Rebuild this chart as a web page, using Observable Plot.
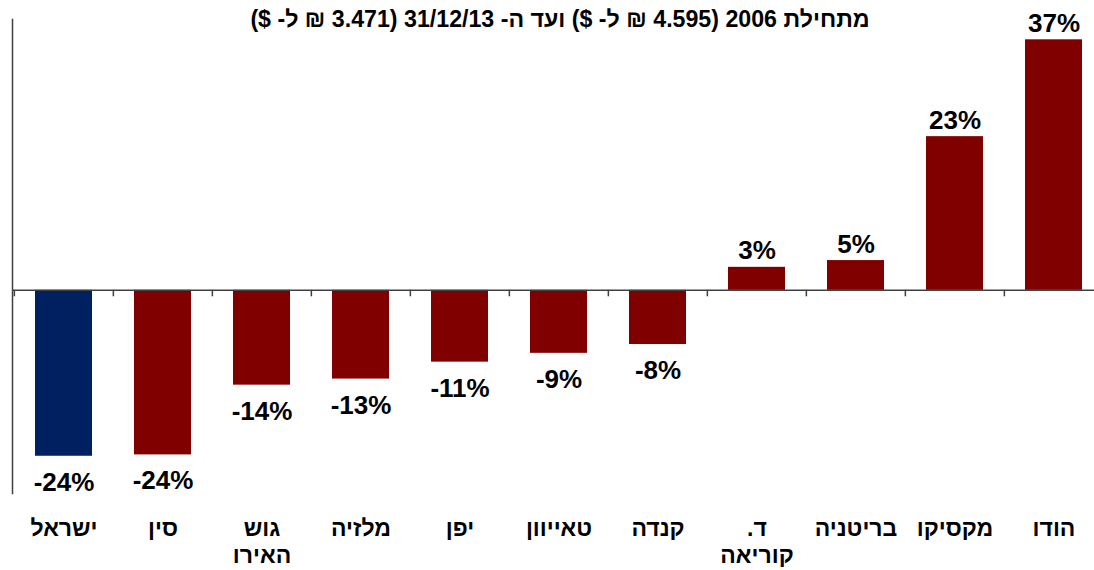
<!DOCTYPE html>
<html>
<head>
<meta charset="utf-8">
<script src="https://cdn.jsdelivr.net/npm/d3@7"></script>
<script src="https://cdn.jsdelivr.net/npm/@observablehq/plot@0.6"></script>
<style>
  html, body { margin: 0; padding: 0; background: #fff; }
  #chart { position: relative; width: 1094px; height: 570px; }
  #title { position: absolute; left: 0; width: 1120px; top: 6px; text-align: center; white-space: nowrap;
    font-family: "Liberation Sans", Arial, sans-serif; font-weight: bold; font-size: 23.2px; line-height: 27px; color: #000; direction: rtl; }
</style>
</head>
<body>
<div id="chart">
  <div id="title">מתחילת 2006 (4.595 ₪ ל- $) ועד ה- 31/12/13 (3.471 ₪ ל- $)</div>
</div>
<script>
// Note: ".ד" is stored so that the RTL rendering shows "ד." as in the reference
const categories = ["ישראל", "סין", "גוש\nהאירו", "מלזיה", "יפן", "טאייוון", "קנדה", ".ד\nקוריאה", "בריטניה", "מקסיקו", "הודו"];
const values = [-24.5, -24.3, -14.0, -13.1, -10.6, -9.3, -8.0, 3.4, 4.4, 22.7, 37.0];
const valueLabels = ["-24%", "-24%", "-14%", "-13%", "-11%", "-9%", "-8%", "3%", "5%", "23%", "37%"];
const colors = ["#002060", "#800000", "#800000", "#800000", "#800000", "#800000", "#800000", "#800000", "#800000", "#800000", "#800000"];

const data = categories.map((c, i) => ({cat: c, value: values[i], color: colors[i], label: valueLabels[i]}));

const step = 99.27;
const font = "Liberation Sans, Arial, sans-serif";

const chart = Plot.plot({
  width: 1094,
  height: 570,
  marginTop: 19, marginBottom: 77, marginLeft: 12, marginRight: 0,
  style: {fontFamily: font, background: "transparent", overflow: "visible"},
  x: {type: "band", domain: categories, range: [12, 12 + step * 11], paddingInner: 0.426, paddingOuter: 0.213, axis: null},
  y: {domain: [-30, 40], axis: null},
  marks: [
    Plot.barY(data, {x: "cat", y: "value", fill: "color"}),
    Plot.ruleY([0], {stroke: "#404040", strokeWidth: 1.5}),
    Plot.frame({anchor: "left", stroke: "#404040", strokeWidth: 1.5}),
    Plot.ruleX(categories, {x: d => d, dx: -step / 2, y1: 0, y2: -0.95, stroke: "#404040", strokeWidth: 1.5}),
    Plot.text(data.filter(d => d.value >= 0), {x: "cat", y: "value", text: "label", lineAnchor: "bottom", dy: -8, fontSize: 26, fontWeight: "bold", fill: "#000"}),
    Plot.text(data.filter(d => d.value < 0), {x: "cat", y: "value", text: "label", lineAnchor: "top", dy: 16, fontSize: 26, fontWeight: "bold", fill: "#000"}),
    Plot.text(categories, {x: d => d, y: () => -30, text: d => d, lineAnchor: "top", dy: 24, fontSize: 23, fontWeight: "bold", lineHeight: 1.15, fill: "#000"})
  ]
});
document.getElementById("chart").appendChild(chart);
</script>
</body>
</html>
